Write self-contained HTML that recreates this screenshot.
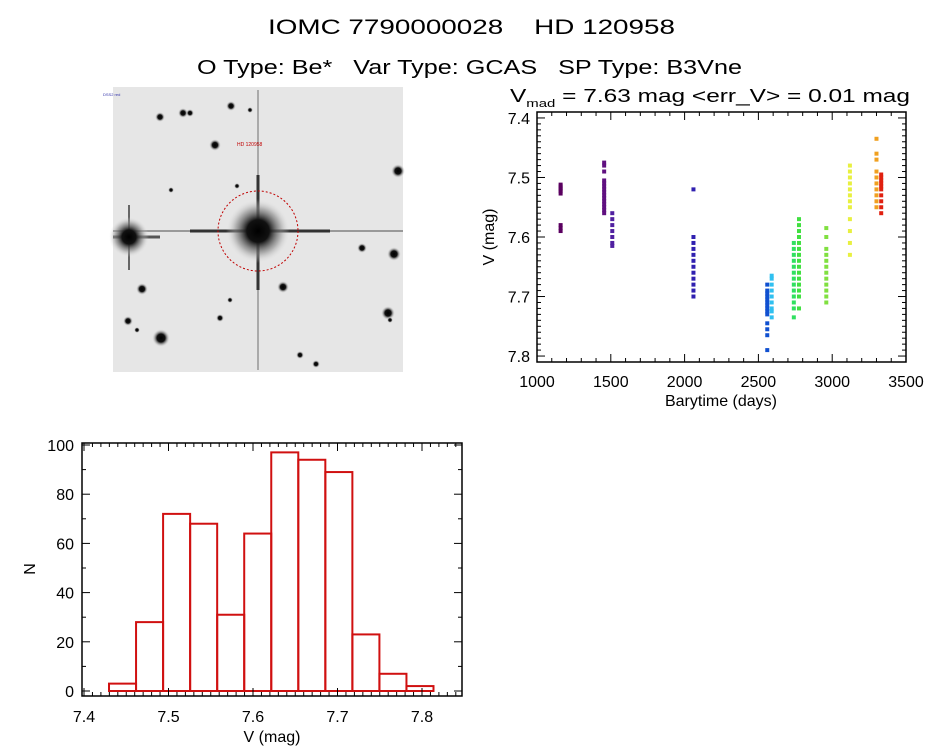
<!DOCTYPE html>
<html><head><meta charset="utf-8"><style>
body{margin:0;background:#fff;width:944px;height:747px;overflow:hidden;font-family:"Liberation Sans",sans-serif}
svg text{font-family:"Liberation Sans",sans-serif;fill:#000;white-space:pre}
</style></head><body>
<svg id="s" width="944" height="747" xmlns="http://www.w3.org/2000/svg" xml:space="preserve">
<text x="268" y="34" font-size="21" textLength="407" lengthAdjust="spacingAndGlyphs">IOMC 7790000028    HD 120958</text>
<text x="197" y="74" font-size="20" textLength="545" lengthAdjust="spacingAndGlyphs">O Type: Be*   Var Type: GCAS   SP Type: B3Vne</text>
<defs>
<radialGradient id="st"><stop offset="0" stop-color="#000"/><stop offset="0.45" stop-color="#111"/><stop offset="1" stop-color="#e8e8e8" stop-opacity="0"/></radialGradient>
<radialGradient id="big"><stop offset="0" stop-color="#000"/><stop offset="0.35" stop-color="#111"/><stop offset="0.7" stop-color="#888" stop-opacity="0.6"/><stop offset="1" stop-color="#e8e8e8" stop-opacity="0"/></radialGradient>
</defs>
<g id="img">
<rect x="113" y="87" width="290" height="285" fill="#e6e6e6"/>
<line x1="113" y1="231" x2="403" y2="231" stroke="#999" stroke-width="2"/>
<line x1="258" y1="90" x2="258" y2="370" stroke="#aaa" stroke-width="2"/>
<line x1="190" y1="231" x2="330" y2="231" stroke="#333" stroke-width="3"/>
<line x1="258" y1="175" x2="258" y2="290" stroke="#333" stroke-width="3"/>
<line x1="129" y1="205" x2="129" y2="270" stroke="#666" stroke-width="2"/>
<line x1="113" y1="237" x2="160" y2="237" stroke="#555" stroke-width="3"/>
<circle cx="258" cy="231" r="32" fill="url(#big)"/>
<circle cx="129" cy="237" r="20" fill="url(#big)"/>
<circle cx="258" cy="231" r="40" fill="none" stroke="#c00000" stroke-dasharray="2,2"/>
<text x="237" y="146" font-size="5" style="fill:#c00000">HD 120958</text>
<text x="103" y="96" font-size="4" style="fill:#33a">DSS2 red</text>
</g>
<g id="lc"></g>
<g id="hist"></g>
</svg>
<script>
// star field (image content, not chart data)
const stars=[[161,338,9],[142,289,6],[394,254,7],[398,171,7],[388,313,7],[183,113,5],[160,117,5],[215,145,6],[231,106,5],[283,287,6],[362,248,5],[128,321,5],[220,318,4],[300,355,4],[316,364,4],[137,330,3],[171,190,3],[237,186,3],[230,300,3],[190,113,4],[390,320,3],[250,110,3]];
// light curve data
const lcTimes=[1160,1455,1510,2060,2560,2590,2740,2775,2960,3120,3300,3332];
const lcColors=["#5a0060","#601080","#5020a0","#3020b0","#1050d0","#30c0f0","#30e060","#40e040","#80e040","#e8f040","#f0a020","#e02010"];
const lcMags=[
[7.512,7.515,7.518,7.52,7.523,7.527,7.58,7.585,7.59],
[7.475,7.48,7.49,7.505,7.51,7.515,7.52,7.525,7.53,7.535,7.54,7.545,7.55,7.555,7.56],
[7.56,7.57,7.58,7.59,7.6,7.61,7.615],
[7.52,7.6,7.61,7.62,7.63,7.64,7.65,7.66,7.67,7.68,7.69,7.7],
[7.68,7.69,7.695,7.7,7.705,7.71,7.715,7.72,7.725,7.73,7.745,7.755,7.765,7.79],
[7.665,7.67,7.68,7.69,7.7,7.71,7.72,7.725,7.735],
[7.61,7.62,7.63,7.64,7.65,7.66,7.67,7.68,7.69,7.7,7.71,7.72,7.735],
[7.57,7.58,7.59,7.6,7.61,7.62,7.63,7.64,7.65,7.66,7.67,7.68,7.69,7.7,7.72],
[7.585,7.6,7.62,7.63,7.64,7.65,7.66,7.67,7.68,7.69,7.7,7.71],
[7.48,7.49,7.5,7.51,7.52,7.53,7.54,7.55,7.57,7.59,7.61,7.63],
[7.435,7.46,7.47,7.49,7.5,7.51,7.52,7.53,7.54,7.55],
[7.495,7.5,7.505,7.51,7.515,7.52,7.53,7.54,7.55,7.56]];
const lcXTicks=[1000,1500,2000,2500,3000,3500];
const lcYTicks=[7.4,7.5,7.6,7.7,7.8];
// histogram data
const histEdgeStart=7.4296, histBinWidth=0.0320;
const histCounts=[3,28,72,68,31,64,97,94,89,23,7,2];
const histXTicks=[7.4,7.5,7.6,7.7,7.8];
const histYTicks=[0,20,40,60,80,100];

const NS="http://www.w3.org/2000/svg";
function mk(p,t,a){const e=document.createElementNS(NS,t);for(const k in a)e.setAttribute(k,a[k]);p.appendChild(e);return e;}
const img=document.getElementById('img');
stars.forEach(s=>{const c=mk(img,'circle',{cx:s[0],cy:s[1],r:s[2],fill:'url(#st)'});

});

// light curve
const lc=document.getElementById('lc');
const L={x0:537,x1:906,y0:112,y1:362};
const lx=t=>L.x0+(t-1000)/2500*(L.x1-L.x0);
const ly=m=>L.y0+(m-7.39)/0.42*(L.y1-L.y0);
const lct=mk(lc,'text',{x:510,y:102,'font-size':18,textLength:400,lengthAdjust:'spacingAndGlyphs'});
lct.innerHTML='V<tspan font-size="11" dy="5">mad</tspan><tspan dy="-5"> = 7.63 mag &lt;err_V&gt; = 0.01 mag</tspan>';


lcMags.forEach((g,i)=>g.forEach(m=>{const r=mk(lc,'rect',{x:lx(lcTimes[i])-2,y:ly(m)-2,width:4,height:4,fill:lcColors[i]});

}));
mk(lc,'rect',{x:L.x0,y:L.y0,width:L.x1-L.x0,height:L.y1-L.y0,fill:'none',stroke:'#000','stroke-width':1.5});
for(let t=1000;t<=3500;t+=100){const x=lx(t),h=t%500==0?8:4;mk(lc,'line',{x1:x,x2:x,y1:L.y1,y2:L.y1-h,stroke:'#000'});mk(lc,'line',{x1:x,x2:x,y1:L.y0,y2:L.y0+h,stroke:'#000'});}
for(let k=0;k<=42;k++){const m=7.39+k*0.01;const y=ly(m);const maj=Math.abs(m*10-Math.round(m*10))<1e-6,h=maj?8:4;mk(lc,'line',{x1:L.x0,x2:L.x0+h,y1:y,y2:y,stroke:'#000'});mk(lc,'line',{x1:L.x1,x2:L.x1-h,y1:y,y2:y,stroke:'#000'});}
lcXTicks.forEach(t=>{const e=mk(lc,'text',{x:lx(t),y:387,'font-size':16,'text-anchor':'middle'});e.textContent=t;

});
lcYTicks.forEach(m=>{const e=mk(lc,'text',{x:530,y:ly(m)+6,'font-size':16,'text-anchor':'end'});e.textContent=m.toFixed(1);

});
let e=mk(lc,'text',{x:721,y:406,'font-size':16,'text-anchor':'middle'});e.textContent='Barytime (days)';


e=mk(lc,'text',{x:0,y:0,'font-size':16,'text-anchor':'middle',transform:'translate(494,237) rotate(-90)'});e.textContent='V (mag)';



// histogram
const h=document.getElementById('hist');
const H={x0:82,x1:462,y0:443,y1:696};
const hx=v=>84+(v-7.4)*845;
const hy=n=>691-n*2.46;
histCounts.forEach((n,i)=>{const a=hx(histEdgeStart+i*histBinWidth),b=hx(histEdgeStart+(i+1)*histBinWidth);
const r=mk(h,'rect',{x:a,y:hy(n),width:b-a,height:hy(0)-hy(n),fill:'none',stroke:'#d01010','stroke-width':2});

});
mk(h,'rect',{x:H.x0,y:H.y0,width:H.x1-H.x0,height:H.y1-H.y0,fill:'none',stroke:'#000','stroke-width':1.5});
for(let k=0;k<=45;k++){const v=7.4+k*0.01,x=hx(v);if(x>H.x1)break;const maj=k%10==0,L2=maj?8:4;mk(h,'line',{x1:x,x2:x,y1:H.y1,y2:H.y1-L2,stroke:'#000'});mk(h,'line',{x1:x,x2:x,y1:H.y0,y2:H.y0+L2,stroke:'#000'});}
for(let n=0;n<=100;n+=10){const y=hy(n),L2=n%20==0?8:4;mk(h,'line',{x1:H.x0,x2:H.x0+L2,y1:y,y2:y,stroke:'#000'});mk(h,'line',{x1:H.x1,x2:H.x1-L2,y1:y,y2:y,stroke:'#000'});}
histXTicks.forEach(v=>{const t=mk(h,'text',{x:hx(v),y:722,'font-size':16,'text-anchor':'middle'});t.textContent=v.toFixed(1);

});
histYTicks.forEach(n=>{const t=mk(h,'text',{x:74,y:hy(n)+6,'font-size':16,'text-anchor':'end'});t.textContent=n;

});
e=mk(h,'text',{x:272,y:742,'font-size':16,'text-anchor':'middle'});e.textContent='V (mag)';


e=mk(h,'text',{x:0,y:0,'font-size':16,'text-anchor':'middle',transform:'translate(35,569) rotate(-90)'});e.textContent='N';


</script>
</body></html>
